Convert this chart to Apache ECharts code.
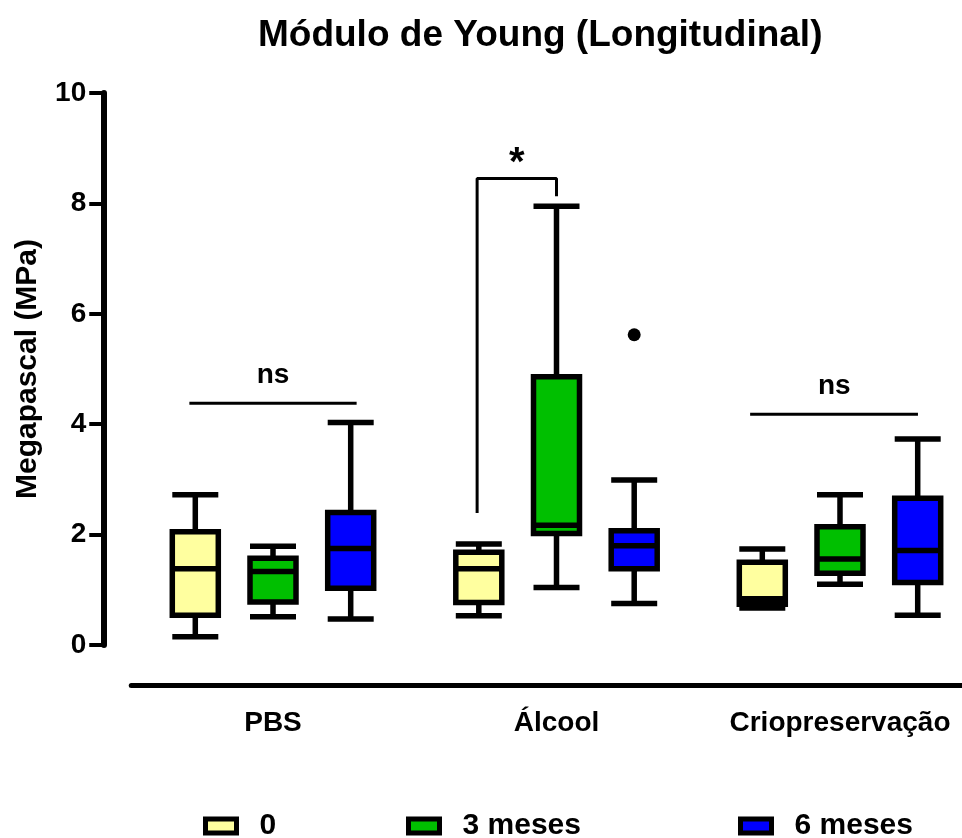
<!DOCTYPE html>
<html>
<head>
<meta charset="utf-8">
<script src="https://cdn.jsdelivr.net/npm/echarts@6/dist/echarts.min.js"></script>
<style>
  html, body { margin: 0; padding: 0; background: #fff; }
  #chart { width: 962px; height: 838px; }
</style>
</head>
<body>
<div id="chart"></div>
<script>
// categories and groups
var categories = ['PBS', 'Álcool', 'Criopreservação'];
var groupNames = ['0', '3 meses', '6 meses'];

// box data: [min, Q1, median, Q3, max]
var box0 = [[0.15, 0.54, 1.38, 2.05, 2.72], [0.53, 0.77, 1.38, 1.68, 1.83], [0.67, 0.74, 0.84, 1.50, 1.74]];
var box3 = [[0.51, 0.78, 1.33, 1.57, 1.79], [1.04, 2.02, 2.17, 4.86, 7.95], [1.10, 1.30, 1.56, 2.14, 2.72]];
var box6 = [[0.47, 1.03, 1.75, 2.40, 4.03], [0.75, 1.38, 1.80, 2.07, 2.99], [0.54, 1.13, 1.71, 2.66, 3.73]];
var outliers6 = [['Álcool', 5.62]];

// y axis ticks
var yMin = 0, yMax = 10, yStep = 2;

// significance annotations (x in category units, 0 = PBS, 1 = Álcool, 2 = Criopreservação)
var nsPBS = [[-0.295, 4.38], [0.295, 4.38]];
var nsCrio = [[1.683, 4.18], [2.275, 4.18]];
var starBracket = [[0.72, 2.39], [0.72, 8.45], [1.0, 8.45], [1.0, 8.13]];
var nsText = [
  { value: [0.0, 4.88], name: 'ns' },
  { value: [1.98, 4.68], name: 'ns' }
];
var starText = [{ value: [0.86, 8.72], name: '*' }];

var colors = ['#FFFF9F', '#00BF00', '#0000FF'];
var font = 'Liberation Sans, Arial, sans-serif';

var chart = echarts.init(document.getElementById('chart'));

var gridLeft = 131.25, gridWidth = 850.5, shift = 77.7;
var grids = [-1, 0, 1].map(function (k) {
  return { left: gridLeft + k * shift, width: gridWidth, top: 93, bottom: 193, outerBoundsMode: 'none', containLabel: false };
});

function hiddenX(i) {
  return { type: 'category', gridIndex: i, data: categories, show: false };
}
function hiddenY(i) {
  return { type: 'value', gridIndex: i, min: yMin, max: yMax, interval: yStep, show: false };
}

function boxSeries(i, data) {
  return {
    name: groupNames[i],
    type: 'boxplot',
    xAxisIndex: i,
    yAxisIndex: i,
    data: data,
    boxWidth: [46, 46],
    itemStyle: { color: colors[i], borderColor: '#000', borderWidth: 5.5 },
    emphasis: { disabled: true },
    silent: true
  };
}

function annotLine(data) {
  return {
    type: 'line',
    xAxisIndex: 3,
    yAxisIndex: 1,
    data: data,
    symbol: 'none',
    lineStyle: { color: '#000', width: 3 },
    silent: true
  };
}

function annotText(data, size) {
  return {
    type: 'scatter',
    xAxisIndex: 3,
    yAxisIndex: 1,
    data: data,
    symbolSize: 0,
    itemStyle: { opacity: 1 },
    label: {
      show: true,
      position: 'inside',
      formatter: '{b}',
      fontFamily: font,
      fontSize: size,
      fontWeight: 'bold',
      color: '#000'
    },
    silent: true
  };
}

function legendAt(i, left) {
  return {
    data: [groupNames[i]],
    left: left,
    top: 806,
    icon: 'rect',
    itemWidth: 31,
    itemHeight: 14,
    itemStyle: { color: colors[i], borderColor: '#000', borderWidth: 5 },
    textStyle: { fontFamily: font, fontSize: 30, fontWeight: 'bold', color: '#000', padding: [0, 0, 0, 18] },
    selectedMode: false
  };
}

var option = {
  animation: false,
  backgroundColor: '#fff',
  title: {
    text: 'Módulo de Young (Longitudinal)',
    left: 253,
    top: 12,
    textStyle: { fontFamily: font, fontSize: 37, fontWeight: 'bold', color: '#000' }
  },
  legend: [legendAt(0, 198), legendAt(1, 401), legendAt(2, 733)],
  grid: grids,
  xAxis: [
    hiddenX(0),
    {
      type: 'category',
      gridIndex: 1,
      data: categories,
      offset: 40,
      axisLine: { onZero: false, lineStyle: { color: '#000', width: 5 } },
      axisTick: { alignWithLabel: true, length: 14, lineStyle: { color: '#000', width: 4 } },
      axisLabel: { interval: 0, margin: 24, fontFamily: font, fontSize: 28, fontWeight: 'bold', color: '#000' },
      splitLine: { show: false }
    },
    hiddenX(2),
    { type: 'value', gridIndex: 1, min: -0.5, max: 2.5, show: false }
  ],
  yAxis: [
    hiddenY(0),
    {
      type: 'value',
      gridIndex: 1,
      min: yMin,
      max: yMax,
      interval: yStep,
      offset: 28,
      name: 'Megapascal (MPa)',
      nameLocation: 'middle',
      nameGap: 61,
      nameTextStyle: { fontFamily: font, fontSize: 30, fontWeight: 'bold', color: '#000' },
      axisLine: { show: true, onZero: false, lineStyle: { color: '#000', width: 6 } },
      axisTick: { show: true, length: 14, lineStyle: { color: '#000', width: 4 } },
      axisLabel: { margin: 17, fontFamily: font, fontSize: 28, fontWeight: 'bold', color: '#000' },
      splitLine: { show: false }
    },
    hiddenY(2)
  ],
  series: [
    boxSeries(0, box0),
    boxSeries(1, box3),
    boxSeries(2, box6),
    {
      name: 'outlier',
      type: 'scatter',
      xAxisIndex: 2,
      yAxisIndex: 2,
      data: outliers6,
      symbolSize: 13,
      itemStyle: { color: '#000', opacity: 1 },
      silent: true
    },
    annotLine(nsPBS),
    annotLine(nsCrio),
    annotLine(starBracket),
    annotText(nsText, 28),
    annotText(starText, 40)
  ]
};

chart.setOption(option);
</script>
</body>
</html>
